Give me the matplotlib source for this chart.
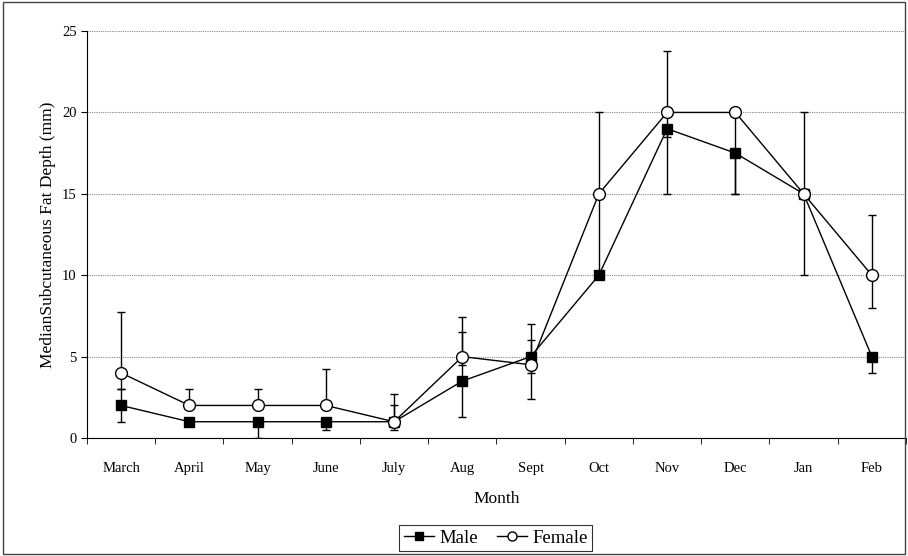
import matplotlib
matplotlib.use("Agg")
import matplotlib.pyplot as plt
from matplotlib.patches import Rectangle
from matplotlib.lines import Line2D
import numpy as np

months = ["March", "April", "May", "June", "July", "Aug", "Sept", "Oct", "Nov", "Dec", "Jan", "Feb"]

male = [2, 1, 1, 1, 1, 3.5, 5, 10, 19, 17.5, 15, 5]
male_lo = [1, 1, 0, 0.5, 0.5, 1.3, 4, 10, 15, 15, 10, 4]
male_hi = [3, 1, 1, 1, 2, 6.5, 6, 10, 19, 17.5, 15, 5]

female = [4, 2, 2, 2, 1, 5, 4.5, 15, 20, 20, 15, 10]
female_lo = [3, 2, 2, 2, 1, 4.5, 2.4, 10, 18.5, 15, 15, 8]
female_hi = [7.75, 3, 3, 4.25, 2.7, 7.45, 7, 20, 23.8, 20, 20, 13.7]

plt.rcParams['font.family'] = ['Liberation Serif', 'DejaVu Serif']

fig = plt.figure(figsize=(9.08, 5.56), dpi=100)
ax = fig.add_axes([0.0958, 0.2122, 0.902, 0.732])

x = np.arange(len(months))

def err(vals, lo, hi):
    v = np.array(vals)
    return [v - np.array(lo), np.array(hi) - v]

ax.errorbar(x, male, yerr=err(male, male_lo, male_hi), color='black', lw=1,
            elinewidth=1, capsize=3, marker='s', ms=7.5, mfc='black', mec='black',
            zorder=3)
ax.errorbar(x, female, yerr=err(female, female_lo, female_hi), color='black', lw=1,
            elinewidth=1, capsize=3, marker='o', ms=8.5, mfc='white', mec='black',
            zorder=4)

ax.set_xlim(-0.5, len(months) - 0.5)
ax.set_ylim(0, 25)
ax.set_yticks([0, 5, 10, 15, 20, 25])
ax.set_xticks(x)
ax.set_xticklabels(months, fontsize=10.5)
ax.set_xticks(np.arange(len(months) + 1) - 0.5, minor=True)
ax.tick_params(axis='x', which='major', length=0, pad=17)
ax.tick_params(axis='x', which='minor', length=4, direction='out')
ax.tick_params(axis='y', length=4, direction='out', labelsize=10.5)
ax.yaxis.grid(True, color='#888888', lw=0.8, ls=(0, (1, 1)))
ax.set_axisbelow(True)
for s in ['top', 'right']:
    ax.spines[s].set_visible(False)

ax.set_xlabel("Month", fontsize=12.5, labelpad=12)
ax.set_ylabel("MedianSubcutaneous Fat Depth (mm)", fontsize=12.5)

handles = [
    Line2D([], [], color='black', lw=1, marker='s', ms=6, mfc='black', mec='black'),
    Line2D([], [], color='black', lw=1, marker='o', ms=6.5, mfc='white', mec='black'),
]
leg = fig.legend(handles, ["Male", "Female"], loc='center', bbox_to_anchor=(0.546, 0.032),
                 ncol=2, fontsize=13.5, frameon=True, fancybox=False, edgecolor='black',
                 handlelength=1.6, handletextpad=0.3, columnspacing=1.0,
                 borderpad=0.25)
leg.get_frame().set_linewidth(0.8)

fig.patches.append(Rectangle((0.003, 0.003), 0.994, 0.994, transform=fig.transFigure,
                             fill=False, edgecolor='#444444', lw=1))

fig.savefig("out.png", dpi=100)
